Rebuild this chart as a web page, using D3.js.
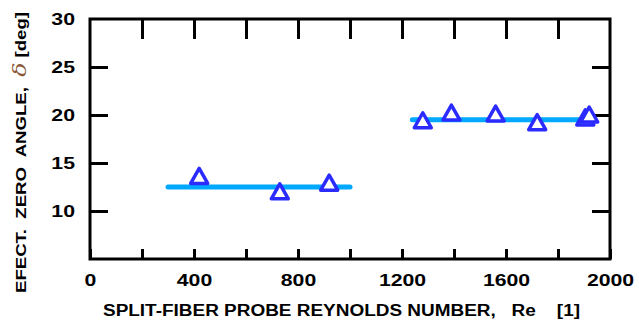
<!DOCTYPE html>
<html>
<head>
<meta charset="utf-8">
<script src="https://cdn.jsdelivr.net/npm/d3@7"></script>
<style>
  body { margin: 0; background: #fff; }
  svg text { font-family: 'Liberation Sans', Arial, sans-serif; font-weight: bold; }
</style>
</head>
<body>
<svg id="chart" width="639" height="322"></svg>
<script>
// measured points
const lowRe = [420, 730, 920];
const lowAngle = [13.6, 12.0, 12.9];
const highRe = [1280, 1390, 1560, 1720, 1905, 1920];
const highAngle = [19.4, 20.2, 20.1, 19.2, 19.7, 20.0];

// mean zero-angle lines
const fitRe = [[300, 1000], [1240, 1930]];
const fitAngle = [12.5, 19.5];

const xTicks = [0, 400, 800, 1200, 1600, 2000];
const xMinor = d3.range(0, 2001, 200);
const yTicks = [10, 15, 20, 25, 30];

const margin = { top: 19, right: 29, bottom: 63, left: 90 };
const width = 639 - margin.left - margin.right;
const height = 322 - margin.top - margin.bottom;
const stretch = 1.25; // labels in the original are wide

const svg = d3.select('#chart');
const g = svg.append('g')
    .attr('transform', `translate(${margin.left},${margin.top})`);

const x = d3.scaleLinear().domain([0, 2000]).range([0, width]);
const y = d3.scaleLinear().domain([5, 30]).range([height, 0]);

// fit lines
fitRe.forEach((r, i) => {
    g.append('line')
        .attr('x1', x(r[0])).attr('x2', x(r[1]))
        .attr('y1', y(fitAngle[i])).attr('y2', y(fitAngle[i]))
        .attr('stroke', '#00a8ff')
        .attr('stroke-width', 5)
        .attr('stroke-linecap', 'round');
});

// frame ticks
const axisStyle = sel => {
    sel.select('.domain').remove();
    sel.selectAll('.tick line').attr('stroke', '#000').attr('stroke-width', 3);
    sel.selectAll('.tick text')
        .attr('fill', '#000')
        .style('font-size', '17px');
};

g.append('g')
    .attr('transform', `translate(0,${height})`)
    .call(d3.axisBottom(x).tickValues(xMinor).tickSize(-10).tickFormat(''))
    .call(axisStyle);
g.append('g')
    .attr('transform', `translate(0,${height})`)
    .call(d3.axisBottom(x).tickValues(xTicks).tickSize(0).tickPadding(15).tickFormat(d3.format('d')))
    .call(axisStyle)
    .selectAll('.tick text')
        .attr('transform', `scale(${stretch},1)`);
g.append('g')
    .call(d3.axisTop(x).tickValues(xMinor.slice(1, -1)).tickSize(-20).tickFormat(''))
    .call(axisStyle);
g.append('g')
    .call(d3.axisLeft(y).tickValues(yTicks.slice(0, -1)).tickSize(-18).tickFormat(''))
    .call(axisStyle);
g.append('g')
    .call(d3.axisLeft(y).tickValues(yTicks).tickSize(0).tickPadding(15))
    .call(axisStyle)
    .selectAll('.tick text')
        .attr('x', -15 / stretch)
        .attr('transform', `scale(${stretch},1)`);
g.append('g')
    .attr('transform', `translate(${width},0)`)
    .call(d3.axisRight(y).tickValues(yTicks.slice(0, -1)).tickSize(-18).tickFormat(''))
    .call(axisStyle);

g.append('rect')
    .attr('width', width).attr('height', height)
    .attr('fill', 'none')
    .attr('stroke', '#000')
    .attr('stroke-width', 3);

// triangles
const tri = 'M0,-8 L8.5,7 L-8.5,7 Z';
const pts = lowRe.map((r, i) => [r, lowAngle[i]])
    .concat(highRe.map((r, i) => [r, highAngle[i]]));
g.append('g').selectAll('path')
    .data(pts)
    .enter()
    .append('path')
        .attr('d', tri)
        .attr('transform', d => `translate(${x(d[0])},${y(d[1])})`)
        .attr('fill', '#fff')
        .attr('stroke', '#2b2bff')
        .attr('stroke-width', 3.5)
        .attr('stroke-linejoin', 'round');

// axis titles
svg.append('text')
    .attr('x', 103).attr('y', 316)
    .attr('textLength', 477)
    .attr('lengthAdjust', 'spacingAndGlyphs')
    .style('font-size', '16px')
    .attr('xml:space', 'preserve')
    .text('SPLIT-FIBER PROBE REYNOLDS NUMBER,   Re    [1]');

const yt = svg.append('text')
    .attr('transform', 'translate(26,293) rotate(-90)')
    .attr('textLength', 281)
    .attr('lengthAdjust', 'spacingAndGlyphs')
    .style('font-size', '15px')
    .attr('xml:space', 'preserve');
yt.append('tspan').text('EFECT.  ZERO  ANGLE,  ');
yt.append('tspan')
    .attr('fill', '#8a5a3a')
    .style('font-family', "'DejaVu Serif', serif")
    .style('font-style', 'italic')
    .style('font-weight', 'normal')
    .style('font-size', '19px')
    .text('δ');
yt.append('tspan').text(' [deg]');
</script>
</body>
</html>
